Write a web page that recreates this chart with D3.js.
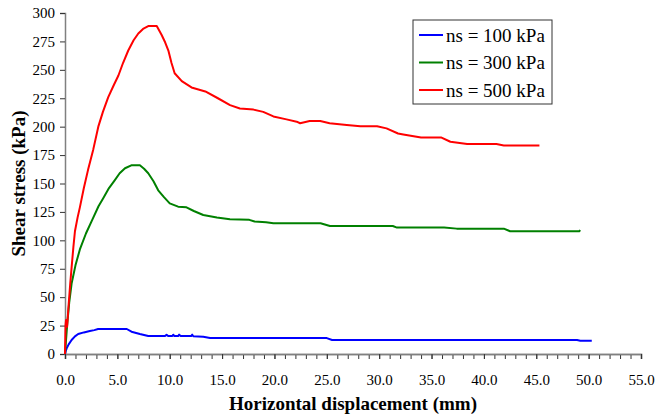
<!DOCTYPE html>
<html>
<head>
<meta charset="utf-8">
<script src="https://cdn.jsdelivr.net/npm/d3@7"></script>
<style>
  body { margin: 0; background: #fff; }
  svg text { font-family: "Liberation Serif", "Times New Roman", Times, serif; }
</style>
</head>
<body>
<svg width="655" height="418"></svg>
<script>
// [displacement (mm), shear stress (kPa)]
var ns100 = [[0,0],[0.08,3],[0.16,5],[0.35,8.5],[0.63,12.3],[0.95,15.5],[1.26,17.6],[1.8,19],[2.37,20.2],[2.8,21],
  [3.16,22],[4.5,22],[5.9,22],[6.35,19.6],[7.15,17.6],[7.95,15.8],[9.55,15.8],[9.7,17],[9.85,15.8],[10.25,15.8],
  [10.33,17],[10.45,15.8],[10.8,15.8],[10.9,17],[11.05,15.8],[12.05,15.8],[12.15,17],[12.25,15.6],[13.2,15.2],
  [13.85,14],[25.0,14],[25.5,12.3],[48.9,12.3],[49.2,11.7],[50.3,11.7]];

var ns300 = [[0,0],[0.2,25],[0.4,45],[0.63,62],[1.0,78],[1.42,92],[2.0,106],[2.6,118],[3.2,130],[3.65,137],
  [4.2,146],[4.76,153],[5.22,159],[5.73,163.4],[6.33,166],[7.15,166],[7.55,163],[7.95,159],[8.45,152],[8.9,144],
  [9.45,138],[10.0,132.5],[10.8,129.6],[11.6,129],[12.3,125.8],[13.2,122.3],[14.5,120],[15.75,118.5],
  [17.6,118],[18.1,116.6],[19.2,116],[19.9,115],[24.4,115],[25.3,112.6],[31.3,112.6],[31.7,111.2],
  [36.2,111.2],[37.4,110.3],[41.9,110.3],[42.5,108],[49.1,108],[49.2,109]];

var ns500 = [[0,0],[0.05,25],[0.1,30],[0.2,24],[0.32,40],[0.5,62],[0.63,76],[0.8,94],[0.95,108],[1.2,120],
  [1.42,129],[1.8,146],[2.2,162],[2.7,180],[3.18,200],[3.62,213],[4.13,226],[4.63,236],[5.1,245],[5.54,256],
  [6.04,267],[6.55,276],[7.0,282],[7.45,286],[7.95,288.5],[8.76,288.5],[9.23,280.6],[9.57,274],[9.87,267],
  [10.17,256],[10.47,247],[11.15,240],[12.08,234.5],[13.4,231],[14.6,225],[15.76,219],[16.7,216],[18.0,215],
  [18.93,213],[19.9,209],[21.15,206.4],[22.12,204.4],[22.45,203],[23.36,205],[24.37,205],[25.27,203],
  [26.9,201.5],[28.2,200.3],[29.8,200.3],[30.7,198.5],[31.8,194],[32.3,193.2],[34.0,190.5],[35.9,190.5],
  [36.8,186.7],[38.4,184.7],[41.2,184.7],[41.9,183.5],[45.3,183.5]];

var seriesNames = ["ns = 100 kPa", "ns = 300 kPa", "ns = 500 kPa"];
var seriesColors = ["#0000ff", "#008000", "#ff0000"];
var xTicks = d3.range(0, 56, 5);
var xMinor = d3.range(0, 56, 1);
var yTicks = d3.range(0, 301, 25);

var svg = d3.select("svg"),
    margin = {top: 13, right: 14, bottom: 64, left: 65},
    width = 641 - margin.left,
    height = 354 - margin.top,
    g = svg.append("g").attr("transform", "translate(" + margin.left + "," + margin.top + ")");

var x = d3.scaleLinear().domain([0, 55]).range([0, width]);
var y = d3.scaleLinear().domain([0, 300]).range([height, 0]);

// y axis
var yAxis = g.append("g")
    .call(d3.axisLeft(y).tickValues(yTicks).tickSize(5).tickPadding(5).tickFormat(d3.format("d")));
// minor x ticks
var xMinorAxis = g.append("g")
    .attr("transform", "translate(0," + height + ")")
    .call(d3.axisBottom(x).tickValues(xMinor).tickSize(5).tickFormat(""));
var xAxis = g.append("g")
    .attr("transform", "translate(0," + height + ")")
    .call(d3.axisBottom(x).tickValues(xTicks).tickSize(5).tickPadding(15).tickFormat(d3.format(".1f")));

[yAxis, xAxis, xMinorAxis].forEach(function(a) {
  a.attr("font-family", null);
  a.select(".domain").attr("stroke", "#808080").attr("stroke-width", 1.5);
  a.selectAll(".tick line").attr("stroke", "#333");
  a.selectAll("text").attr("font-size", 15).attr("fill", "#000");
});

var line = d3.line()
    .x(function(d) { return x(d[0]); })
    .y(function(d) { return y(d[1]); });

[ns100, ns300, ns500].forEach(function(s, i) {
  g.append("path")
      .datum(s)
      .attr("fill", "none")
      .attr("stroke", seriesColors[i])
      .attr("stroke-width", 2)
      .attr("stroke-linejoin", "round")
      .attr("d", line);
});

// axis titles
svg.append("text")
    .attr("x", margin.left + width / 2)
    .attr("y", 410)
    .attr("text-anchor", "middle")
    .attr("font-weight", "bold")
    .attr("font-size", 19)
    .text("Horizontal displacement (mm)");

svg.append("text")
    .attr("transform", "translate(25," + (margin.top + height / 2) + ") rotate(-90)")
    .attr("text-anchor", "middle")
    .attr("font-weight", "bold")
    .attr("font-size", 19)
    .text("Shear stress (kPa)");

// legend
var legend = svg.append("g").attr("transform", "translate(413,20)");
legend.append("rect")
    .attr("width", 139).attr("height", 84)
    .attr("fill", "#fff").attr("stroke", "#333").attr("stroke-width", 1);
var items = legend.selectAll("g.item")
    .data(seriesNames)
    .enter().append("g")
      .attr("transform", function(d, i) { return "translate(0," + (15 + i * 27.5) + ")"; });
items.append("line")
    .attr("x1", 6).attr("x2", 30)
    .attr("stroke", function(d, i) { return seriesColors[i]; })
    .attr("stroke-width", 2);
items.append("text")
    .attr("x", 33).attr("dy", "0.35em")
    .attr("font-size", 19)
    .text(function(d) { return d; });
</script>
</body>
</html>
